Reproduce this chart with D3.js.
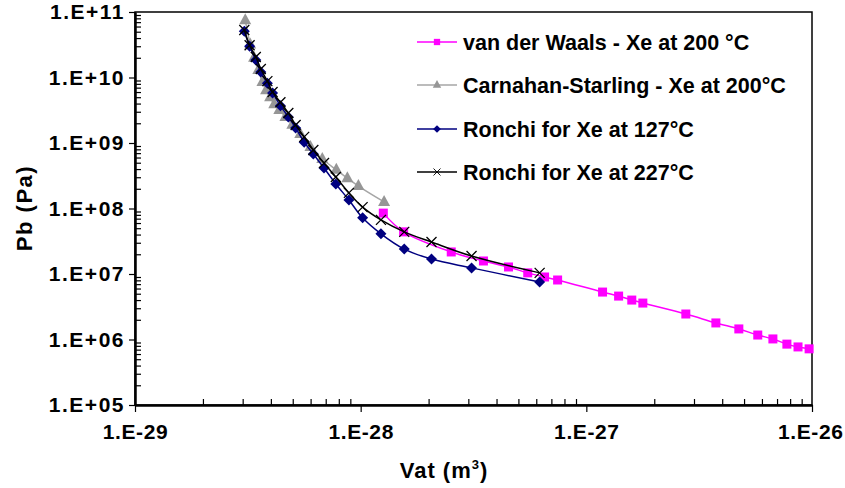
<!DOCTYPE html>
<html>
<head>
<meta charset="utf-8">
<script src="https://cdn.jsdelivr.net/npm/d3@7"></script>
<style>
    body { margin: 0; background: #fff; }
    svg text { font-family: "Liberation Sans", Arial, sans-serif; font-weight: bold; fill: #000; }
</style>
</head>
<body>
<svg id="chart" width="845" height="488"></svg>
<script>
/*
    Pb versus Vat for xenon, log-log
 */

// van der Waals - Xe at 200 °C
const vdwVolume = [1.26e-28, 1.55e-28, 2.52e-28, 3.5e-28, 4.52e-28, 5.5e-28, 6.53e-28, 7.46e-28,
    1.18e-27, 1.39e-27, 1.59e-27, 1.78e-27, 2.76e-27, 3.75e-27, 4.74e-27, 5.75e-27, 6.71e-27,
    7.74e-27, 8.67e-27, 9.71e-27];
const vdwPressure = [8.5e7, 4.4e7, 2.17e7, 1.58e7, 1.28e7, 1.04e7, 9.0e6, 8.1e6,
    5.3e6, 4.6e6, 4.0e6, 3.6e6, 2.45e6, 1.79e6, 1.45e6, 1.17e6, 1.02e6,
    8.5e5, 7.7e5, 7.2e5];

// Carnahan-Starling - Xe at 200 °C
const csVolume = [3.08e-29, 3.24e-29, 3.37e-29, 3.52e-29, 3.67e-29, 3.81e-29, 3.97e-29, 4.14e-29,
    4.36e-29, 4.64e-29, 4.98e-29, 5.4e-29, 5.99e-29, 6.76e-29, 7.8e-29, 8.73e-29, 9.77e-29, 1.27e-28];
const csPressure = [7.5e10, 3.2e10, 2.0e10, 1.3e10, 8.5e9, 6.4e9, 5.0e9, 3.9e9,
    3.2e9, 2.5e9, 1.9e9, 1.37e9, 8.7e8, 5.7e8, 3.9e8, 2.9e8, 2.2e8, 1.26e8];

// Ronchi, same volumes for both temperatures
const ronchiVolume = [3.05e-29, 3.22e-29, 3.43e-29, 3.61e-29, 3.86e-29, 4.07e-29, 4.41e-29, 4.78e-29,
    5.15e-29, 5.62e-29, 6.17e-29, 6.88e-29, 7.76e-29, 8.87e-29, 1.02e-28, 1.23e-28, 1.56e-28,
    2.06e-28, 3.1e-28, 6.21e-28];
const ronchi127Pressure = [5.1e10, 3.0e10, 1.85e10, 1.21e10, 8.2e9, 5.8e9, 3.7e9, 2.5e9,
    1.7e9, 1.03e9, 6.8e8, 4.15e8, 2.37e8, 1.35e8, 7.2e7, 4.1e7, 2.4e7,
    1.69e7, 1.24e7, 7.55e6];
const ronchi227Pressure = [5.3e10, 3.1e10, 2.06e10, 1.35e10, 8.8e9, 6.0e9, 4.2e9, 2.87e9,
    1.88e9, 1.24e9, 7.8e8, 4.95e8, 3.03e8, 1.73e8, 1.05e8, 6.7e7, 4.4e7,
    3.08e7, 1.88e7, 1.04e7];

const legendLabels = ["van der Waals - Xe at 200 °C", "Carnahan-Starling - Xe at 200°C",
    "Ronchi for Xe at 127°C", "Ronchi for Xe at 227°C"];
const xTickValues = [1e-29, 1e-28, 1e-27, 1e-26];
const yTickValues = [1e5, 1e6, 1e7, 1e8, 1e9, 1e10, 1e11];
const xTitle = "Vat (m";
const yTitle = "Pb (Pa)";

class Chart {
    constructor(selector) {
        this._svg = d3.select(selector);
        this._left = 135;
        this._right = 812;
        this._top = 12;
        this._bottom = 405;

        this._setupScales();
        this._drawAxes();
        this._drawSeries();
        this._drawLegend();
    }

    _setupScales() {
        this._x = d3.scaleLog().domain([1e-29, 1e-26]).range([this._left, this._right]);
        this._y = d3.scaleLog().domain([1e5, 1e11]).range([this._bottom, this._top]);
    }

    _expLabel(v) {
        const e = Math.round(Math.log10(v));
        const sign = e < 0 ? "-" : "+";
        return `1.E${sign}${String(Math.abs(e)).padStart(2, "0")}`;
    }

    _minors(values) {
        const out = [];
        values.slice(0, -1).forEach(d => {
            for (let k = 2; k <= 9; k++) out.push(d * k);
        });
        return out;
    }

    _drawAxes() {
        const svg = this._svg;

        // frame
        svg.append("rect")
            .attr("x", this._left)
            .attr("y", this._top)
            .attr("width", this._right - this._left)
            .attr("height", this._bottom - this._top)
            .attr("fill", "none")
            .attr("stroke", "#000")
            .attr("stroke-width", 1.5);

        const xAxis = svg.append("g").attr("transform", `translate(0,${this._bottom})`)
            .call(d3.axisBottom(this._x).tickValues(xTickValues).tickSizeInner(7).tickSizeOuter(0)
                .tickPadding(12).tickFormat(d => this._expLabel(d)));
        svg.append("g").attr("transform", `translate(0,${this._bottom})`)
            .call(d3.axisBottom(this._x).tickValues(this._minors(xTickValues)).tickSizeInner(-6)
                .tickSizeOuter(0).tickFormat(""));

        const yAxis = svg.append("g").attr("transform", `translate(${this._left},0)`)
            .call(d3.axisLeft(this._y).tickValues(yTickValues).tickSizeInner(6).tickSizeOuter(0)
                .tickPadding(4).tickFormat(d => this._expLabel(d)));
        svg.append("g").attr("transform", `translate(${this._left},0)`)
            .call(d3.axisLeft(this._y).tickValues(this._minors(yTickValues)).tickSizeInner(-6)
                .tickSizeOuter(0).tickFormat(""));

        svg.selectAll(".domain").attr("stroke", "#000").attr("stroke-width", 2);
        svg.selectAll(".tick line").attr("stroke", "#000").attr("stroke-width", 1.2);
        svg.selectAll(".tick text").attr("font-size", 21).attr("font-family", null);
        yAxis.selectAll(".tick text").attr("letter-spacing", 1.5);
        xAxis.selectAll(".tick text").attr("letter-spacing", 0.6);
        // keep the last label inside the page
        xAxis.selectAll(".tick text").filter(d => d === 1e-26).attr("text-anchor", "end").attr("x", 31);

        const xt = svg.append("text")
            .attr("x", 444)
            .attr("y", 478)
            .attr("text-anchor", "middle")
            .attr("font-size", 22)
            .attr("letter-spacing", 1)
            .text(xTitle);
        xt.append("tspan").attr("dy", -9).attr("font-size", 13).text("3");
        xt.append("tspan").attr("dy", 9).text(")");

        svg.append("text")
            .attr("transform", "translate(32,208) rotate(-90)")
            .attr("text-anchor", "middle")
            .attr("font-size", 22)
            .attr("letter-spacing", 1.5)
            .text(yTitle);
    }

    _marker(g, kind, color) {
        if (kind === "square") {
            g.append("rect").attr("x", -4.5).attr("y", -4.5).attr("width", 9).attr("height", 9)
                .attr("fill", color);
        } else if (kind === "triangle") {
            g.append("path").attr("d", "M0,-7L6,4L-6,4Z").attr("fill", color);
        } else if (kind === "diamond") {
            g.append("path").attr("d", "M0,-5.5L5.5,0L0,5.5L-5.5,0Z").attr("fill", color);
        } else {
            g.append("path").attr("d", "M-5,-5L5,5M-5,5L5,-5")
                .attr("stroke", color).attr("stroke-width", 1.3);
        }
    }

    _drawLine(xs, ys, color, kind, lineColor) {
        const pts = xs.map((v, i) => [this._x(v), this._y(ys[i])]);
        const line = d3.line().curve(d3.curveCatmullRom.alpha(0.5));
        this._svg.append("path")
            .attr("d", line(pts))
            .attr("fill", "none")
            .attr("stroke", lineColor || color)
            .attr("stroke-width", 1.5);
        const g = this._svg.append("g");
        pts.forEach(p => {
            const m = g.append("g").attr("transform", `translate(${p[0]},${p[1]})`);
            this._marker(m, kind, color);
        });
    }

    _drawSeries() {
        this._drawLine(vdwVolume, vdwPressure, "#ff00ff", "square");
        this._drawLine(csVolume, csPressure, "#969696", "triangle", "#a6a6a6");
        this._drawLine(ronchiVolume, ronchi127Pressure, "#000080", "diamond");
        this._drawLine(ronchiVolume, ronchi227Pressure, "#000", "cross");
    }

    _drawLegend() {
        const styles = [["#ff00ff", "square", "#ff00ff"], ["#969696", "triangle", "#a6a6a6"],
            ["#000080", "diamond", "#000080"], ["#000", "cross", "#000"]];
        const rowY = [42, 85, 129, 172];
        legendLabels.forEach((label, i) => {
            const g = this._svg.append("g").attr("transform", `translate(0,${rowY[i]})`);
            g.append("line").attr("x1", 417).attr("x2", 457).attr("y1", 0).attr("y2", 0)
                .attr("stroke", styles[i][2]).attr("stroke-width", 1.5);
            const m = g.append("g").attr("transform", "translate(437,0) scale(0.7)");
            this._marker(m, styles[i][1], styles[i][0]);
            g.append("text").attr("x", 463).attr("y", 8).attr("font-size", 21.5).text(label);
        });
    }
}

new Chart("#chart");
</script>
</body>
</html>
